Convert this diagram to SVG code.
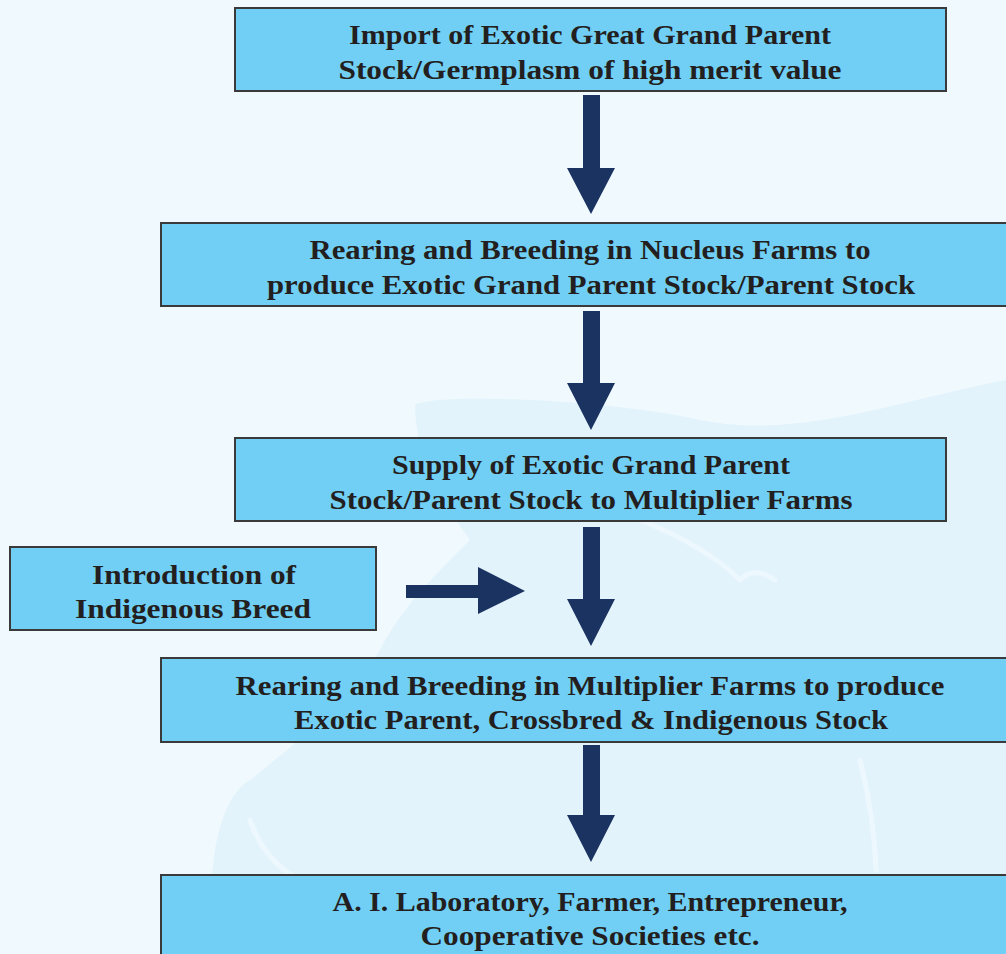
<svg xmlns="http://www.w3.org/2000/svg" width="1006" height="954" viewBox="0 0 1006 954">
<style>
.box{fill:#71cff5;stroke:#3a3a3a;stroke-width:2}
.t{font-family:"Liberation Serif","Times New Roman",serif;font-weight:bold;font-size:27px;fill:#231f20;text-anchor:middle}
.arr{fill:#1a3361}
.wm{fill:#e3f3fc}
.wl{fill:none;stroke:#edf8fe;stroke-width:5;stroke-linecap:round}
</style>
<rect x="0" y="0" width="1006" height="954" fill="#f0f9fd"/>
<g id="watermark">
<path class="wm" d="M415 405 C430 393 600 398 700 420 C800 440 900 400 1006 380 L1006 954 L215 954 C205 880 215 800 250 780 C300 740 350 700 380 650 C400 610 430 580 470 540 C440 500 415 450 415 405 Z"/>
<path class="wl" d="M640 520 C690 540 720 560 740 580"/>
<path class="wl" d="M740 580 C750 570 760 570 775 580"/>
<path class="wl" d="M860 760 C870 800 875 840 876 870"/>
<path class="wl" d="M250 820 C260 850 280 870 300 880"/>
</g>
<g id="connectors">
<polygon class="arr" points="583,95 600,95 600,168 615,168 591,214 567,168 583,168"/>
<polygon class="arr" points="583,311 600,311 600,383 615,383 591,430 567,383 583,383"/>
<polygon class="arr" points="583,527 600,527 600,599 615,599 591,646 567,599 583,599"/>
<polygon class="arr" points="583,745 600,745 600,815 615,815 591,862 567,815 583,815"/>
<polygon class="arr" points="406,585 478,585 478,567 525,591 478,614 478,598 406,598"/>
</g>
<g id="n1">
<rect class="box" x="235" y="8" width="711" height="83"/>
<text class="t" x="590" y="44" textLength="482" lengthAdjust="spacingAndGlyphs">Import of Exotic Great Grand Parent</text>
<text class="t" x="590" y="79" textLength="503" lengthAdjust="spacingAndGlyphs">Stock/Germplasm of high merit value</text>
</g>
<g id="n2">
<rect class="box" x="161" y="223" width="850" height="83"/>
<text class="t" x="590" y="259" textLength="561" lengthAdjust="spacingAndGlyphs">Rearing and Breeding in Nucleus Farms to</text>
<text class="t" x="591" y="294" textLength="648" lengthAdjust="spacingAndGlyphs">produce Exotic Grand Parent Stock/Parent Stock</text>
</g>
<g id="n3">
<rect class="box" x="235" y="438" width="711" height="83"/>
<text class="t" x="591" y="474" textLength="398" lengthAdjust="spacingAndGlyphs">Supply of Exotic Grand Parent</text>
<text class="t" x="591" y="509" textLength="523" lengthAdjust="spacingAndGlyphs">Stock/Parent Stock to Multiplier Farms</text>
</g>
<g id="n4">
<rect class="box" x="10" y="547" width="366" height="83"/>
<text class="t" x="194" y="584" textLength="204" lengthAdjust="spacingAndGlyphs">Introduction of</text>
<text class="t" x="193" y="618" textLength="236" lengthAdjust="spacingAndGlyphs">Indigenous Breed</text>
</g>
<g id="n5">
<rect class="box" x="161" y="658" width="850" height="84"/>
<text class="t" x="590" y="695" textLength="709" lengthAdjust="spacingAndGlyphs">Rearing and Breeding in Multiplier Farms to produce</text>
<text class="t" x="591" y="729" textLength="594" lengthAdjust="spacingAndGlyphs">Exotic Parent, Crossbred &amp; Indigenous Stock</text>
</g>
<g id="n6">
<rect class="box" x="161" y="875" width="850" height="90"/>
<text class="t" x="590" y="911" textLength="515" lengthAdjust="spacingAndGlyphs">A. I. Laboratory, Farmer, Entrepreneur,</text>
<text class="t" x="590" y="945" textLength="339" lengthAdjust="spacingAndGlyphs">Cooperative Societies etc.</text>
</g>
</svg>
